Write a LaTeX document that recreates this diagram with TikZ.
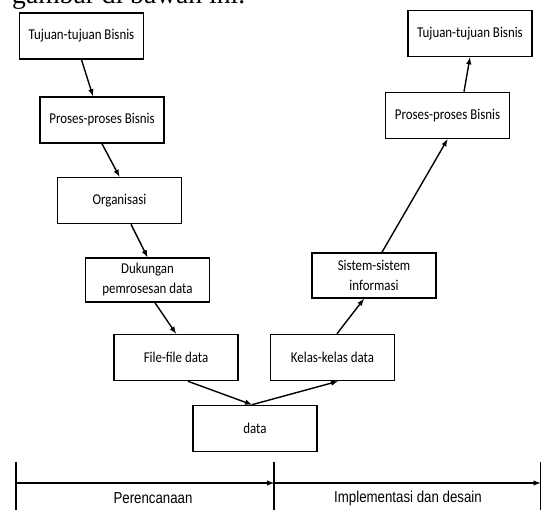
\documentclass[tikz,border=0pt]{standalone}
\usepackage{fontspec}
\setmainfont{Carlito}[FakeStretch=0.86]
\newfontfamily\arialfont{Liberation Sans}[FakeStretch=0.84]
\newfontfamily\timesfont{Liberation Serif}
\usetikzlibrary{arrows}
\tikzstyle{kotak}=[draw, line width=1.6pt, minimum width=124pt, minimum height=46pt, inner sep=0pt, align=center, font=\fontsize{15}{20}\selectfont]
\tikzstyle{panah}=[->, >=latex, line width=1.4pt]

\begin{document}
\begin{tikzpicture}[x=1pt,y=-1pt]
%\draw[help lines] (0,0) grid[step=10] (542,510);
\clip (0,0) rectangle (542,510);
\node [anchor=base west, inner sep=0pt, font=\timesfont\fontsize{27.6}{30}\selectfont] (judul) at (12,4) {gambar di bawah ini.};
% sisi perencanaan (turun)
\node [kotak] (tujuan1) at (81.5,36) {Tujuan-tujuan Bisnis};
\node [kotak] (proses1) at (102,120) {Proses-proses Bisnis};
\node [kotak] (org) at (119.5,200.5) {Organisasi};
\node [kotak, minimum height=44pt] (dukung) at (147.5,280) {Dukungan\\pemrosesan data};
\node [kotak] (file) at (176,357.5) {File-file data};
\node [kotak] (data) at (255,428.5) {data};
% sisi implementasi (naik)
\node [kotak] (kelas) at (332.5,357.5) {Kelas-kelas data};
\node [kotak, minimum height=45pt] (sistem) at (374,275.5) {Sistem-sistem\\informasi};
\node [kotak] (proses2) at (447.5,115.5) {Proses-proses Bisnis};
\node [kotak] (tujuan2) at (470,33.5) {Tujuan-tujuan Bisnis};
\draw [panah] (tujuan1.south) -- ([xshift=-9pt]proses1.north);
\draw [panah] (proses1.south) -- (org.north);
\draw [panah] ([xshift=11.5pt]org.south) -- (dukung.north);
\draw [panah] ([xshift=7.5pt]dukung.south) -- (file.north);
\draw [panah] ([xshift=12pt]file.south) -- ([xshift=-3pt]data.north);
\draw [panah] ([xshift=-3pt]data.north) -- ([xshift=5.5pt]kelas.south);
\draw [panah] ([xshift=4.5pt]kelas.north) -- ([xshift=-10pt]sistem.south);
\draw [panah] ([xshift=8pt]sistem.north) -- (proses2.south);
\draw [panah] ([xshift=16.5pt]proses2.north) -- (tujuan2.south);
% garis waktu
\coordinate (t1) at (16,462); \coordinate (b1) at (16,512); \coordinate (h1) at (16,483);
\coordinate (t2) at (274,462); \coordinate (b2) at (274,512); \coordinate (h2) at (274,483);
\coordinate (t3) at (540.5,462); \coordinate (b3) at (540.5,512); \coordinate (h3) at (540.5,483);
\draw [line width=1.6pt] (t1) -- (b1) (t2) -- (b2) (t3) -- (b3);
\draw [panah] (h1) -- (h2);
\draw [panah] (h2) -- (h3);
\node [font=\arialfont\fontsize{15.8}{18}\selectfont] (rencana) at (153,498) {Perencanaan};
\node [font=\arialfont\fontsize{15.8}{18}\selectfont] (implem) at (408,498) {Implementasi dan desain};
\end{tikzpicture}
\end{document}
